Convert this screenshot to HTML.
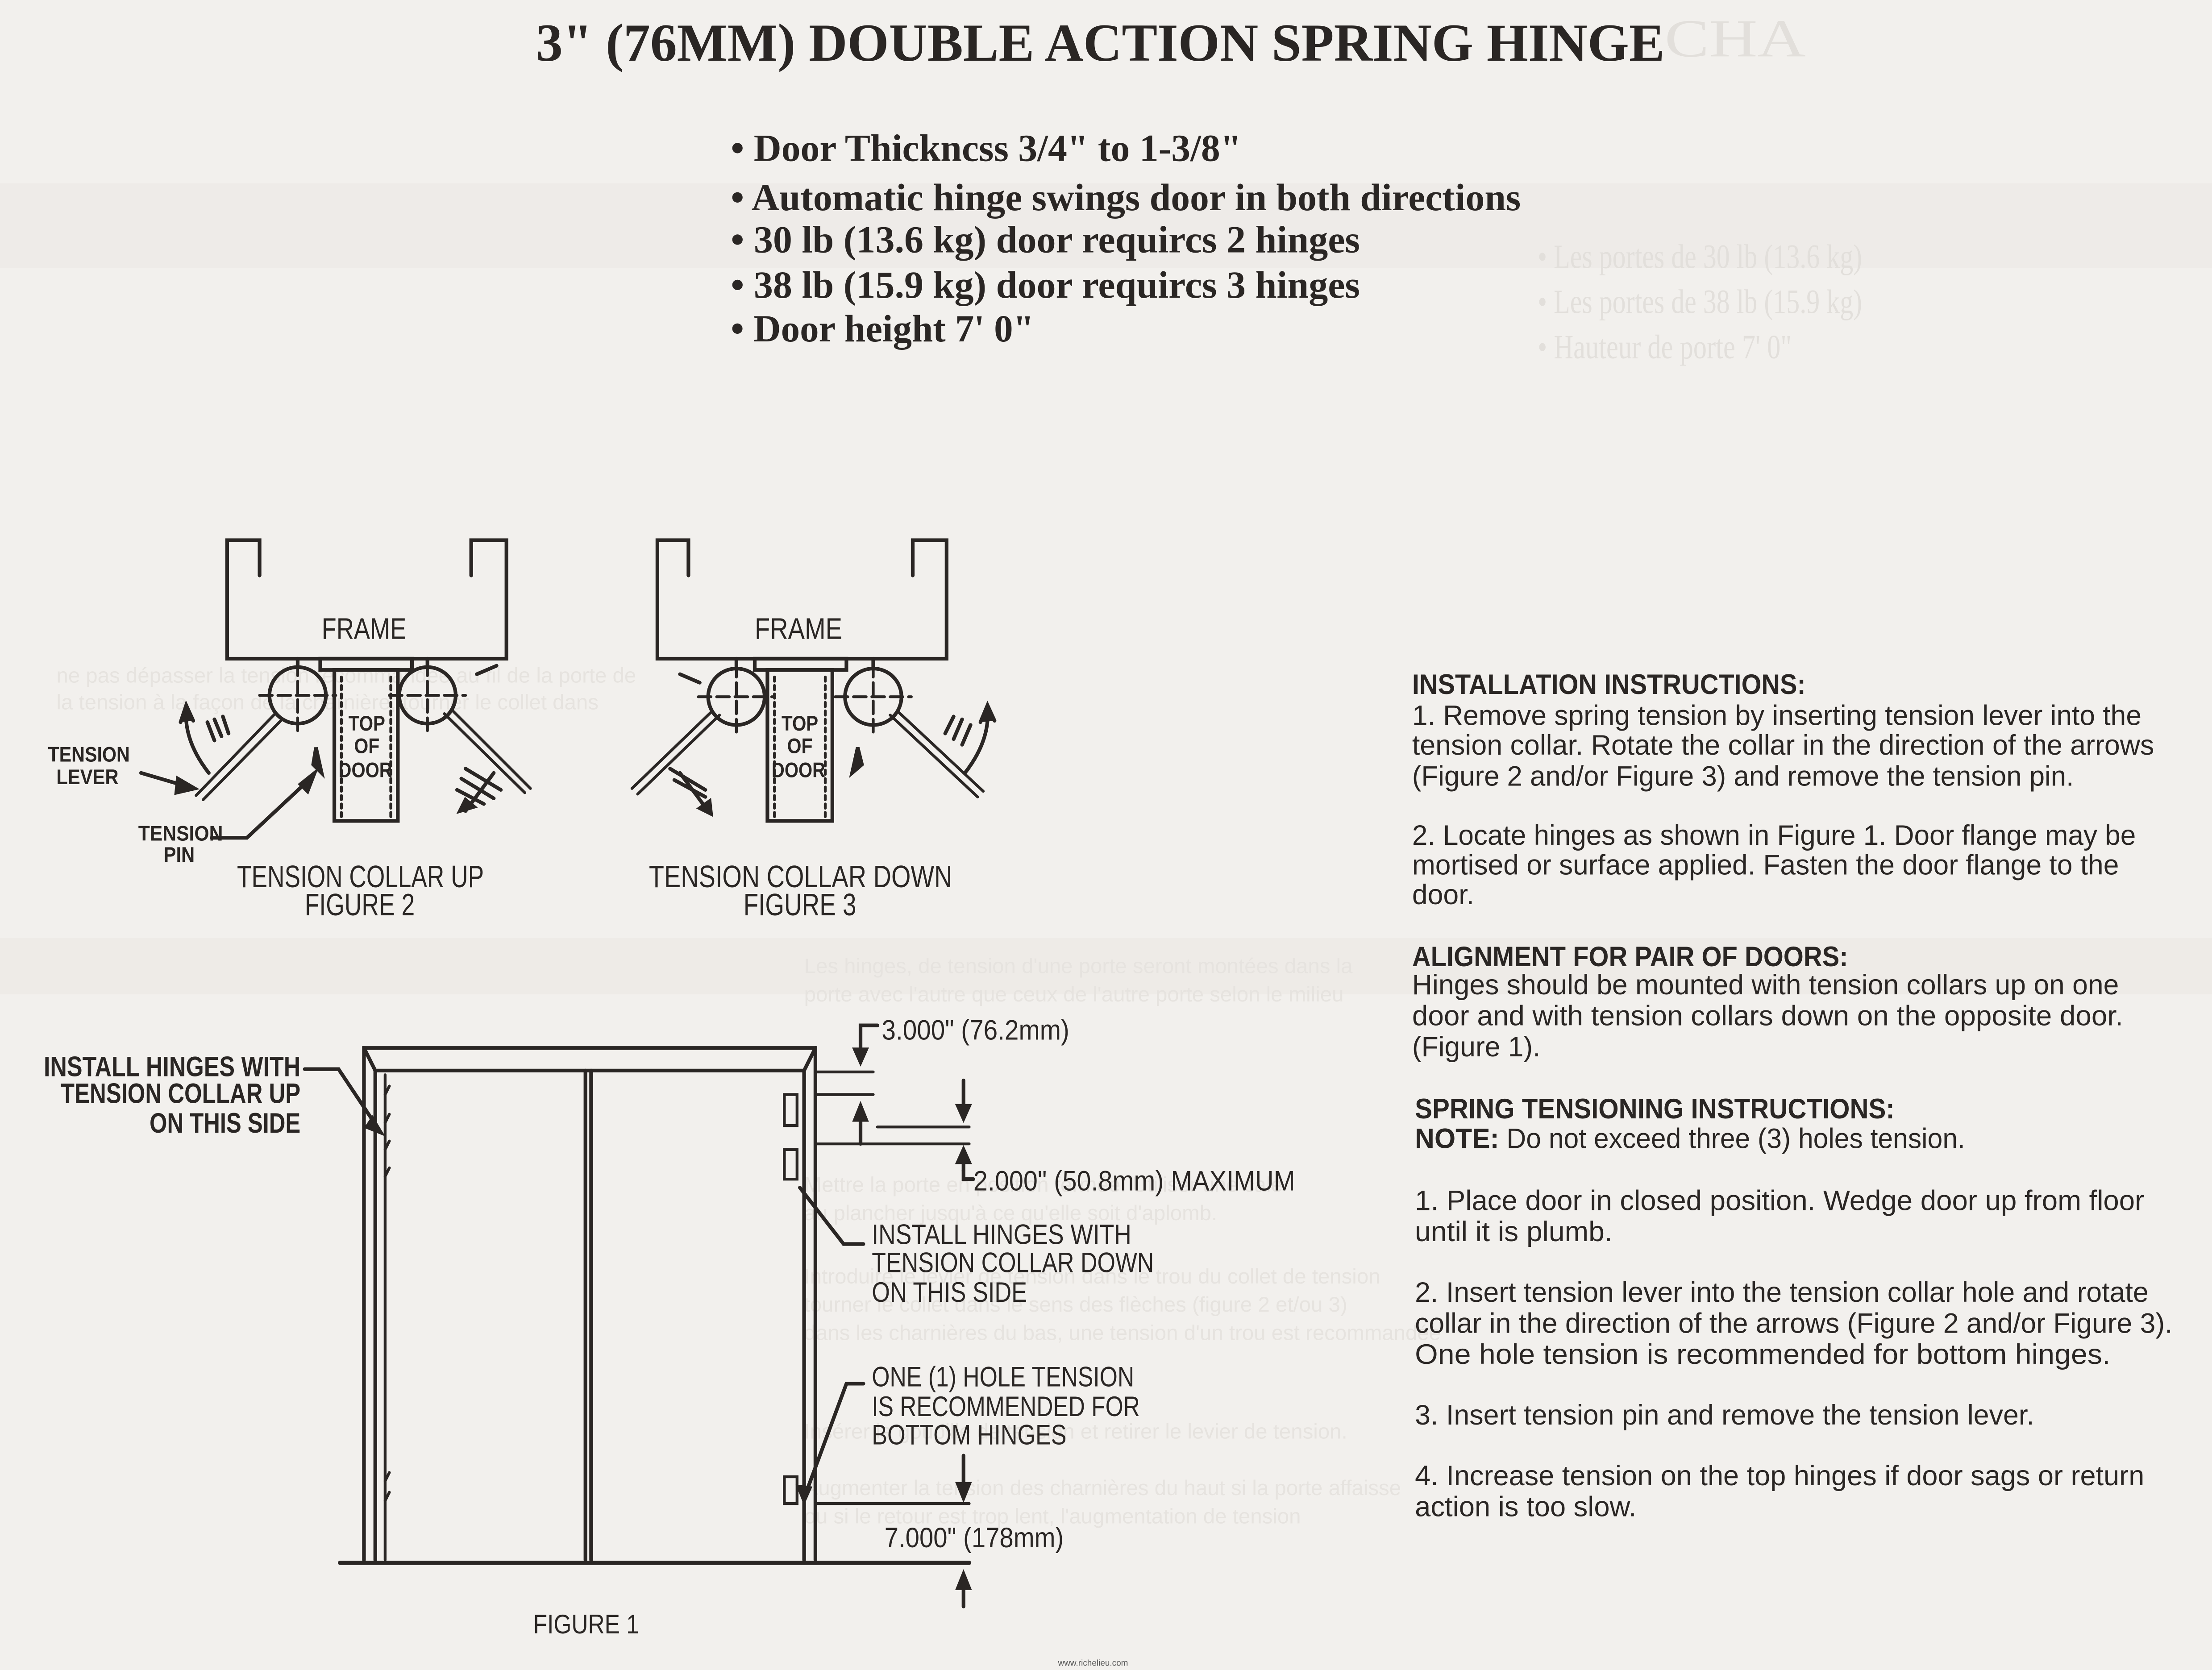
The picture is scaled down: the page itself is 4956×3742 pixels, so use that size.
<!DOCTYPE html>
<html><head><meta charset="utf-8"><style>
html,body{margin:0;padding:0;background:#f2f0ed;}
svg{display:block;}
.t{font-family:"Liberation Serif",serif;font-weight:bold;fill:#2a2624;}
.s{font-family:"Liberation Sans",sans-serif;fill:#2a2624;}
.b{font-weight:bold;}
.g{font-family:"Liberation Serif",serif;fill:#e2dfdb;}
.gs{font-family:"Liberation Sans",sans-serif;fill:#e6e3df;}
</style></head><body>
<svg width="4956" height="3742" viewBox="0 0 1568 1184" preserveAspectRatio="none" xmlns="http://www.w3.org/2000/svg">
<rect width="1568" height="1184" fill="#f2f0ed"/>
<rect x="0" y="130" width="1568" height="60" fill="#ebe8e4" opacity="0.6"/>
<rect x="0" y="665" width="1568" height="40" fill="#ebe7e3" opacity="0.6"/>
<!-- ghost text -->
<text class="g" x="1180" y="40" font-size="38" textLength="100" lengthAdjust="spacingAndGlyphs">CHA</text>
<text class="g" x="1090" y="190" font-size="24" textLength="230" lengthAdjust="spacingAndGlyphs">• Les portes de 30 lb (13.6 kg)</text>
<text class="g" x="1090" y="222" font-size="24" textLength="230" lengthAdjust="spacingAndGlyphs">• Les portes de 38 lb (15.9 kg)</text>
<text class="g" x="1090" y="254" font-size="24" textLength="180" lengthAdjust="spacingAndGlyphs">• Hauteur de porte 7' 0"</text>
<g class="gs" font-size="15">
<text x="40" y="484">ne pas dépasser la tension recommandée au fil de la porte de</text>
<text x="40" y="503">la tension à la façon de la charnière, tourner le collet dans</text>
<text x="570" y="690">Les hinges, de tension d'une porte seront montées dans la</text>
<text x="570" y="710">porte avec l'autre que ceux de l'autre porte selon le milieu</text>
<text x="570" y="845">Mettre la porte en position fermée. Utiliser une cale</text>
<text x="570" y="865">au plancher jusqu'à ce qu'elle soit d'aplomb.</text>
<text x="570" y="910">Introduire le levier de tension dans le trou du collet de tension</text>
<text x="570" y="930">tourner le collet dans le sens des flèches (figure 2 et/ou 3)</text>
<text x="570" y="950">dans les charnières du bas, une tension d'un trou est recommandée</text>
<text x="570" y="1020">Insérer la goupille de tension et retirer le levier de tension.</text>
<text x="570" y="1060">Augmenter la tension des charnières du haut si la porte affaisse</text>
<text x="570" y="1080">ou si le retour est trop lent, l'augmentation de tension</text>
</g>

<!-- Title & bullets -->
<text class="t" x="380" y="43" font-size="38" textLength="800" lengthAdjust="spacingAndGlyphs">3" (76MM) DOUBLE ACTION SPRING HINGE</text>
<g class="t" font-size="27">
<text x="518" y="114" textLength="362" lengthAdjust="spacingAndGlyphs">• Door Thickncss 3/4" to 1-3/8"</text>
<text x="518" y="149" textLength="560" lengthAdjust="spacingAndGlyphs">• Automatic hinge swings door in both directions</text>
<text x="518" y="179" textLength="446" lengthAdjust="spacingAndGlyphs">• 30 lb (13.6 kg) door requircs 2 hinges</text>
<text x="518" y="211" textLength="446" lengthAdjust="spacingAndGlyphs">• 38 lb (15.9 kg) door requircs 3 hinges</text>
<text x="518" y="242" textLength="215" lengthAdjust="spacingAndGlyphs">• Door height 7' 0"</text>
</g>

<g stroke="#2a2624" fill="none" stroke-width="2.6" stroke-linecap="round">
<!-- FIGURE 2 -->
<path d="M184,408 V383 H161 V467 H359 V383 H334 V408"/>
<rect x="237" y="475" width="45" height="107"/>
<rect x="227" y="467" width="65" height="8"/>
<path d="M242,480 V580 M277,480 V580" stroke-dasharray="3 3" stroke-width="2"/>
<circle cx="211" cy="493" r="20"/>
<circle cx="303" cy="493" r="20"/>
<path d="M184,493 H238 M211,470 V520 M276,493 H330 M303,470 V520" stroke-dasharray="9 4" stroke-width="2"/>
<path d="M211,467 V473 M303,467 V473" />
<path d="M195,506 L139,564 M200,510 L144,567" stroke-width="2"/>
<path d="M315,506 L372,562 M320,503 L376,559" stroke-width="2"/>
<path d="M148,548 Q130,525 132,502"/>
<path d="M128,512 L132,500 L137,511" fill="#2a2624"/>
<path d="M147,512 L152,525 M152,510 L157,522 M158,508 L162,520"/>
<path d="M350,548 L330,575"/>
<path d="M326,575 L330,567 L336,572 Z" fill="#2a2624"/>
<path d="M330,545 L355,560 M327,552 L350,566 M324,560 L343,570"/>
<path d="M224,530 L228,548 L222,542 Z" fill="#2a2624"/>
<path d="M338,478 L352,472"/>
<path d="M100,548 L134,558"/>
<path d="M126,552 L138,559 L125,562 Z" fill="#2a2624"/>
<path d="M150,594 H175 L220,552"/>
<path d="M213,556 L223,548 L218,561 Z" fill="#2a2624"/>

<!-- FIGURE 3 -->
<path d="M488,408 V383 H466 V467 H671 V383 H647 V408"/>
<rect x="544" y="475" width="46" height="107"/>
<rect x="535" y="467" width="65" height="8"/>
<path d="M549,480 V580 M585,480 V580" stroke-dasharray="3 3" stroke-width="2"/>
<circle cx="522" cy="494" r="20"/>
<circle cx="619" cy="494" r="20"/>
<path d="M495,494 H549 M522,471 V521 M592,494 H646 M619,471 V521" stroke-dasharray="9 4" stroke-width="2"/>
<path d="M522,467 V473 M619,467 V473"/>
<path d="M510,507 L452,563 M505,504 L448,559" stroke-width="2"/>
<path d="M631,507 L693,565 M636,504 L697,561" stroke-width="2"/>
<path d="M684,548 Q702,525 700,502"/>
<path d="M695,512 L700,500 L705,511" fill="#2a2624"/>
<path d="M670,520 L676,508 M676,524 L682,510 M682,528 L688,514"/>
<path d="M482,548 L502,575"/>
<path d="M496,573 L504,577 L503,568 Z" fill="#2a2624"/>
<path d="M475,545 L500,560 M478,553 L500,565"/>
<path d="M608,530 L604,548 L611,542 Z" fill="#2a2624"/>
<path d="M482,478 L496,484"/>

<!-- FIGURE 1 -->
<path d="M258,1106 V743 H578 V1106"/>
<path d="M266,1106 V759 H570 V1106"/>
<path d="M258,743 L266,759 M578,743 L570,759"/>
<path d="M273,762 V1106" stroke-width="2"/>
<path d="M415,759 V1106 M419,759 V1106"/>
<path d="M241,1108 H687" stroke-width="3"/>
<rect x="556" y="776" width="9" height="22" stroke-width="2"/>
<rect x="556" y="815" width="9" height="21" stroke-width="2"/>
<rect x="556" y="1047" width="9" height="19" stroke-width="2"/>
<path d="M273,776 L276,770 M273,796 L276,790 M273,815 L276,809 M273,834 L276,828 M273,1050 L276,1044 M273,1064 L276,1058" stroke-width="2"/>
<path d="M216,758 H240 L268,800"/>
<path d="M264,793 L270,803 L260,799 Z" fill="#2a2624"/>
<path d="M578,760 H619 M578,776 H619 M622,799 H687 M578,811 H687 M578,1066 H687" stroke-width="2"/>
<path d="M622,727 H610 V750"/>
<path d="M606,744 L610,753 L614,744 Z" fill="#2a2624"/>
<path d="M610,811 V788"/>
<path d="M606,794 L610,784 L614,794 Z" fill="#2a2624"/>
<path d="M683,766 V790"/>
<path d="M679,784 L683,793 L687,784 Z" fill="#2a2624"/>
<path d="M683,830 V818"/>
<path d="M679,824 L683,815 L687,824 Z" fill="#2a2624"/>
<path d="M683,830 V836 H690"/>
<path d="M683,1032 V1058"/>
<path d="M679,1052 L683,1062 L687,1052 Z" fill="#2a2624"/>
<path d="M683,1139 V1120"/>
<path d="M679,1126 L683,1116 L687,1126 Z" fill="#2a2624"/>
<path d="M567,842 L598,882 H612"/>
<path d="M612,981 H600 L570,1062"/>
<path d="M566,1054 L570,1064 L574,1055 Z" fill="#2a2624"/>
</g>

<!-- Figure labels -->
<g class="s" font-size="21">
<text x="228" y="453" textLength="60" lengthAdjust="spacingAndGlyphs">FRAME</text>
<text x="535" y="453" textLength="62" lengthAdjust="spacingAndGlyphs">FRAME</text>
</g>
<g class="s b" font-size="15">
<text x="247" y="518" textLength="26" lengthAdjust="spacingAndGlyphs">TOP</text>
<text x="251" y="534" textLength="18" lengthAdjust="spacingAndGlyphs">OF</text>
<text x="240" y="551" textLength="38" lengthAdjust="spacingAndGlyphs">DOOR</text>
<text x="554" y="518" textLength="26" lengthAdjust="spacingAndGlyphs">TOP</text>
<text x="558" y="534" textLength="18" lengthAdjust="spacingAndGlyphs">OF</text>
<text x="547" y="551" textLength="38" lengthAdjust="spacingAndGlyphs">DOOR</text>
<text x="34" y="540" textLength="58" lengthAdjust="spacingAndGlyphs">TENSION</text>
<text x="40" y="556" textLength="44" lengthAdjust="spacingAndGlyphs">LEVER</text>
<text x="98" y="596" textLength="60" lengthAdjust="spacingAndGlyphs">TENSION</text>
<text x="116" y="611" textLength="22" lengthAdjust="spacingAndGlyphs">PIN</text>
</g>
<g class="s" font-size="22">
<text x="168" y="629" textLength="175" lengthAdjust="spacingAndGlyphs">TENSION COLLAR UP</text>
<text x="216" y="649" textLength="78" lengthAdjust="spacingAndGlyphs">FIGURE 2</text>
<text x="460" y="629" textLength="215" lengthAdjust="spacingAndGlyphs">TENSION COLLAR DOWN</text>
<text x="527" y="649" textLength="80" lengthAdjust="spacingAndGlyphs">FIGURE 3</text>
</g>
<g class="s b" font-size="20">
<text x="31" y="763" textLength="182" lengthAdjust="spacingAndGlyphs">INSTALL HINGES WITH</text>
<text x="43" y="782" textLength="170" lengthAdjust="spacingAndGlyphs">TENSION COLLAR UP</text>
<text x="106" y="803" textLength="107" lengthAdjust="spacingAndGlyphs">ON THIS SIDE</text>
</g>
<g class="s" font-size="20">
<text x="625" y="737" textLength="133" lengthAdjust="spacingAndGlyphs">3.000" (76.2mm)</text>
<text x="690" y="844" textLength="228" lengthAdjust="spacingAndGlyphs">2.000" (50.8mm) MAXIMUM</text>
<text x="618" y="882" textLength="184" lengthAdjust="spacingAndGlyphs">INSTALL HINGES WITH</text>
<text x="618" y="902" textLength="200" lengthAdjust="spacingAndGlyphs">TENSION COLLAR DOWN</text>
<text x="618" y="923" textLength="110" lengthAdjust="spacingAndGlyphs">ON THIS SIDE</text>
<text x="618" y="983" textLength="186" lengthAdjust="spacingAndGlyphs">ONE (1) HOLE TENSION</text>
<text x="618" y="1004" textLength="190" lengthAdjust="spacingAndGlyphs">IS RECOMMENDED FOR</text>
<text x="618" y="1024" textLength="138" lengthAdjust="spacingAndGlyphs">BOTTOM HINGES</text>
<text x="627" y="1097" textLength="127" lengthAdjust="spacingAndGlyphs">7.000" (178mm)</text>
<text x="378" y="1158" font-size="19" textLength="75" lengthAdjust="spacingAndGlyphs">FIGURE 1</text>
</g>

<!-- Right column -->
<g class="s" font-size="20">
<text class="b" x="1001" y="492" textLength="279" lengthAdjust="spacingAndGlyphs">INSTALLATION INSTRUCTIONS:</text>
<text x="1001" y="514" textLength="517" lengthAdjust="spacingAndGlyphs">1. Remove spring tension by inserting tension lever into the</text>
<text x="1001" y="535" textLength="526" lengthAdjust="spacingAndGlyphs">tension collar.  Rotate the collar in the direction of the arrows</text>
<text x="1001" y="557" textLength="469" lengthAdjust="spacingAndGlyphs">(Figure 2 and/or Figure 3) and remove the tension pin.</text>
<text x="1001" y="599" textLength="513" lengthAdjust="spacingAndGlyphs">2. Locate hinges as shown in Figure 1.  Door flange may be</text>
<text x="1001" y="620" textLength="501" lengthAdjust="spacingAndGlyphs">mortised or surface applied.  Fasten the door flange to the</text>
<text x="1001" y="641" textLength="44" lengthAdjust="spacingAndGlyphs">door.</text>
<text class="b" x="1001" y="685" textLength="309" lengthAdjust="spacingAndGlyphs">ALIGNMENT FOR PAIR OF DOORS:</text>
<text x="1001" y="705" textLength="501" lengthAdjust="spacingAndGlyphs">Hinges should be mounted with tension collars up on one</text>
<text x="1001" y="727" textLength="504" lengthAdjust="spacingAndGlyphs">door and with tension collars down on the opposite door.</text>
<text x="1001" y="749" textLength="91" lengthAdjust="spacingAndGlyphs">(Figure 1).</text>
<text class="b" x="1003" y="793" textLength="340" lengthAdjust="spacingAndGlyphs">SPRING TENSIONING INSTRUCTIONS:</text>
<text x="1003" y="814" textLength="390" lengthAdjust="spacingAndGlyphs"><tspan font-weight="bold">NOTE:</tspan> Do not exceed three (3) holes tension.</text>
<text x="1003" y="858" textLength="517" lengthAdjust="spacingAndGlyphs">1. Place door in closed position.  Wedge door up from floor</text>
<text x="1003" y="880" textLength="140" lengthAdjust="spacingAndGlyphs">until it is plumb.</text>
<text x="1003" y="923" textLength="520" lengthAdjust="spacingAndGlyphs">2. Insert tension lever into the tension collar hole and rotate</text>
<text x="1003" y="945" textLength="537" lengthAdjust="spacingAndGlyphs">collar in the direction of the arrows (Figure 2 and/or Figure 3).</text>
<text x="1003" y="967" textLength="493" lengthAdjust="spacingAndGlyphs">One hole tension is recommended for bottom hinges.</text>
<text x="1003" y="1010" textLength="439" lengthAdjust="spacingAndGlyphs">3. Insert tension pin and remove the tension lever.</text>
<text x="1003" y="1053" textLength="517" lengthAdjust="spacingAndGlyphs">4. Increase tension on the top hinges if door sags or return</text>
<text x="1003" y="1075" textLength="157" lengthAdjust="spacingAndGlyphs">action is too slow.</text>
</g>
<text x="750" y="1181" font-family="Liberation Sans, sans-serif" font-size="6" fill="#555">www.richelieu.com</text>
</svg>
</body></html>
